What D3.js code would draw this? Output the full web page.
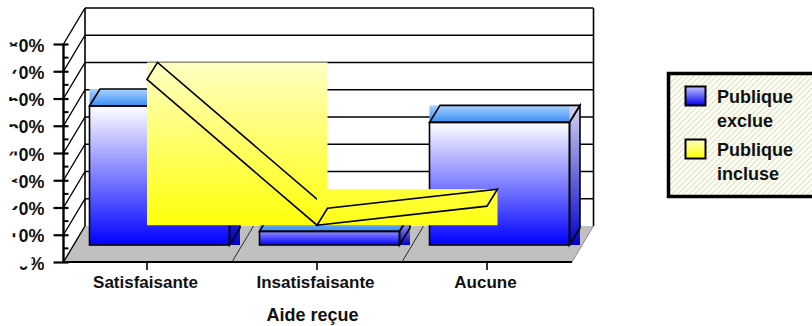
<!DOCTYPE html>
<html>
<head>
<meta charset="utf-8">
<script src="https://cdn.jsdelivr.net/npm/d3@7/dist/d3.min.js"></script>
<style>
  body { margin: 0; background: #fff; }
  svg { display: block; }
  text { font-family: "Liberation Sans", Arial, sans-serif; font-weight: bold; fill: #111; }
</style>
</head>
<body>
<div id="wrapper"></div>
<script>
const categories = ["Satisfaisante", "Insatisfaisante", "Aucune"];
const publiqueExclue = [51, 5, 45];
const publiqueIncluse = [67, 13.5, 20.5];
const yTicks = [0, 10, 20, 30, 40, 50, 60, 70, 80];
const legendNames = ["Publique exclue", "Publique incluse"];
const axisTitle = "Aide reçue";

const width = 812, height = 326;
const plotLeft = 63.5, plotRight = 572, plotBottom = 262, plotTop = 44;
// depth of the fake 3d box, and of one bar / ribbon
const depthX = 21.5, depthY = 36;
const barDepthX = 10.5, barDepthY = 17;
const barWidth = 140, barShift = 12.5;

const svg = d3.select("#wrapper").append("svg")
  .attr("width", width)
  .attr("height", height);
const defs = svg.append("defs");

const xScale = d3.scaleBand().domain(categories).range([62, 572]);
const yScale = d3.scaleLinear().domain([0, 80]).range([plotBottom, plotTop]);

function gradient(id, from, to) {
  const g = defs.append("linearGradient").attr("id", id)
    .attr("x1", 0).attr("y1", 0).attr("x2", 0).attr("y2", 1);
  g.append("stop").attr("offset", "0%").attr("stop-color", from);
  g.append("stop").attr("offset", "100%").attr("stop-color", to);
  return `url(#${id})`;
}

const polyLine = (pts) => pts.map((p) => p.join(",")).join(" ");
const black = "#000";

// walls and floor
const box = svg.append("g");
box.append("polygon")
  .attr("points", polyLine([[plotLeft, plotBottom], [plotLeft + depthX, plotBottom - depthY], [plotRight + depthX, plotBottom - depthY], [plotRight, plotBottom]]))
  .attr("fill", "#c0c0c0");

box.selectAll(".grid")
  .data(yTicks.slice(1))
  .enter().append("line")
    .attr("x1", plotLeft + depthX)
    .attr("x2", plotRight + depthX)
    .attr("y1", (d) => yScale(d) - depthY)
    .attr("y2", (d) => yScale(d) - depthY)
    .attr("stroke", black).attr("stroke-width", 1.6);

box.selectAll(".wall")
  .data(yTicks)
  .enter().append("line")
    .attr("x1", plotLeft)
    .attr("x2", plotLeft + depthX)
    .attr("y1", (d) => yScale(d))
    .attr("y2", (d) => yScale(d) - depthY)
    .attr("stroke", black).attr("stroke-width", 1.4);

box.append("line")
  .attr("x1", plotLeft + depthX).attr("x2", plotLeft + depthX)
  .attr("y1", yScale(80) - depthY).attr("y2", plotBottom - depthY)
  .attr("stroke", black).attr("stroke-width", 1.6);
box.append("line")
  .attr("x1", plotRight + depthX).attr("x2", plotRight + depthX)
  .attr("y1", yScale(80) - depthY).attr("y2", plotBottom - depthY)
  .attr("stroke", black).attr("stroke-width", 1.6);

// thin floor separators
box.selectAll(".sep")
  .data(categories.slice(1))
  .enter().append("line")
    .attr("x1", (d) => xScale(d))
    .attr("x2", (d) => xScale(d) + depthX)
    .attr("y1", plotBottom)
    .attr("y2", plotBottom - depthY)
    .attr("stroke", black).attr("stroke-width", 0.8);
box.append("line")
  .attr("x1", plotRight).attr("x2", plotRight + depthX)
  .attr("y1", plotBottom).attr("y2", plotBottom - depthY)
  .attr("stroke", "#777").attr("stroke-width", 0.8);

// bars: the faces are filled as their bounding boxes, the way the original does
const topFill = gradient("barTop", "#a9d2ff", "#3a8cf2");
const sideFill = gradient("barSide", "#d4d4ee", "#0000c8");
const bars = svg.append("g");
categories.forEach((c, i) => {
  const x0 = xScale(c) + (xScale.bandwidth() - barWidth) / 2 + barShift;
  const y0 = plotBottom - barDepthY;
  const y1 = yScale(publiqueExclue[i]) - barDepthY;
  const startColor = d3.interpolateRgb("#8080ff", "#f4f4ff")((y0 - y1) / 100);
  const frontFill = gradient("barFront" + i, startColor, "#0000ff");

  bars.append("rect").attr("x", x0).attr("y", y1 - barDepthY)
    .attr("width", barWidth + barDepthX).attr("height", barDepthY).attr("fill", topFill);
  bars.append("rect").attr("x", x0 + barWidth).attr("y", y1 - barDepthY)
    .attr("width", barDepthX).attr("height", y0 - y1 + barDepthY).attr("fill", sideFill);
  bars.append("rect").attr("x", x0).attr("y", y1)
    .attr("width", barWidth).attr("height", y0 - y1)
    .attr("fill", frontFill).attr("stroke", black).attr("stroke-width", 1.6);
  bars.append("polygon")
    .attr("points", polyLine([[x0, y1], [x0 + barDepthX, y1 - barDepthY], [x0 + barWidth + barDepthX, y1 - barDepthY], [x0 + barWidth, y1]]))
    .attr("fill", "none").attr("stroke", black).attr("stroke-width", 1.6);
  bars.append("polygon")
    .attr("points", polyLine([[x0 + barWidth, y1], [x0 + barWidth + barDepthX, y1 - barDepthY], [x0 + barWidth + barDepthX, y0 - barDepthY], [x0 + barWidth, y0]]))
    .attr("fill", "none").attr("stroke", black).attr("stroke-width", 1.6);
});

// floor front edge + axes
const yAxis = svg.append("g")
  .attr("transform", `translate(${plotLeft},0)`)
  .call(d3.axisLeft(yScale).tickValues(yTicks).tickFormat((d) => d + "%").tickSize(10).tickPadding(9));
yAxis.select(".domain").attr("stroke", black).attr("stroke-width", 2.4).attr("d", `M0,${plotTop}V${plotBottom}`);
yAxis.selectAll(".tick line").attr("stroke", black).attr("stroke-width", 2.2).attr("x2", 5).attr("x1", -10);
yAxis.selectAll(".tick text")
  .style("font-size", "18px")
  .attr("dy", 7)
  .attr("clip-path", (d) => (d == 0 ? "url(#zeroClip)" : "url(#tickClip)"));

const tickClip = defs.append("clipPath").attr("id", "tickClip");
tickClip.append("rect").attr("x", -55).attr("y", -2).attr("width", 11).attr("height", 4);
tickClip.append("rect").attr("x", -44).attr("y", -10).attr("width", 24.5).attr("height", 19);
const zeroClip = defs.append("clipPath").attr("id", "zeroClip");
zeroClip.append("rect").attr("x", -44).attr("y", 4).attr("width", 12).attr("height", 5);
zeroClip.append("rect").attr("x", -32).attr("y", -7).attr("width", 12.5).attr("height", 16);

// minor ticks half way
yAxis.selectAll(".minor")
  .data(yTicks.slice(1))
  .enter().append("line")
    .attr("x1", 0).attr("x2", 5)
    .attr("y1", (d) => yScale(d - 5))
    .attr("y2", (d) => yScale(d - 5))
    .attr("stroke", black).attr("stroke-width", 2);

const xAxis = svg.append("g")
  .attr("transform", `translate(0,${plotBottom})`)
  .call(d3.axisBottom(xScale).tickSize(8).tickPadding(3));
xAxis.select(".domain").attr("stroke", black).attr("stroke-width", 2.2).attr("d", `M${plotLeft},0H${plotRight}`);
xAxis.selectAll(".tick line").attr("stroke", black).attr("stroke-width", 1.6);
xAxis.selectAll(".tick text").style("font-size", "17px").attr("dx", -1.5).attr("dy", 15);

svg.append("text")
  .attr("x", 312.5).attr("y", 321)
  .attr("text-anchor", "middle")
  .style("font-size", "18px")
  .text(axisTitle);

// yellow ribbon, each segment painted over the one before
const ribbon = svg.append("g");
const pts = categories.map((c, i) => [xScale(c) + xScale.bandwidth() / 2, yScale(publiqueIncluse[i])]);
d3.pairs(pts).forEach(([a, b], i) => {
  const xMin = Math.min(a[0], b[0]);
  const xMax = Math.max(a[0], b[0]) + barDepthX;
  const yMin = Math.min(a[1], b[1]) - barDepthY;
  const yMax = Math.max(a[1], b[1]);
  const fill = i == 0 ? gradient("ribbon0", "#ffffc4", "#ffff0a") : gradient("ribbon1", "#ffff3c", "#ffff18");
  ribbon.append("rect").attr("x", xMin).attr("y", yMin)
    .attr("width", xMax - xMin).attr("height", yMax - yMin).attr("fill", fill);
  ribbon.append("polygon")
    .attr("points", polyLine([a, b, [b[0] + barDepthX, b[1] - barDepthY], [a[0] + barDepthX, a[1] - barDepthY]]))
    .attr("fill", "none").attr("stroke", black).attr("stroke-width", 1.6);
});

// legend
const hatch = defs.append("pattern").attr("id", "hatch")
  .attr("width", 4).attr("height", 4)
  .attr("patternUnits", "userSpaceOnUse")
  .attr("patternTransform", "rotate(45)");
hatch.append("rect").attr("width", 4).attr("height", 4).attr("fill", "#fffff2");
hatch.append("line").attr("x1", 0).attr("x2", 0).attr("y1", 0).attr("y2", 4)
  .attr("stroke", "#c4c4b8").attr("stroke-width", 1.2);

const legend = svg.append("g");
legend.append("rect")
  .attr("x", 668.5).attr("y", 73.5)
  .attr("width", 160).attr("height", 123)
  .attr("fill", "url(#hatch)").attr("stroke", black).attr("stroke-width", 3.5);

const swatchFills = [gradient("swatch0", "#c4c4ff", "#0000f0"), gradient("swatch1", "#ffffc4", "#ffff00")];
const legendRow = d3.scaleBand().domain(legendNames).range([81, 187]);
legendNames.forEach((name, i) => {
  const y = legendRow(name);
  legend.append("rect")
    .attr("x", 685.5).attr("y", y + 5.5)
    .attr("width", 20).attr("height", 19)
    .attr("fill", swatchFills[i]).attr("stroke", black).attr("stroke-width", 2);
  const words = name.split(" ");
  words.forEach((w, j) => {
    legend.append("text")
      .attr("x", 717).attr("y", y + 21.5 + j * 24)
      .style("font-size", "18px")
      .text(w);
  });
});
</script>
</body>
</html>
